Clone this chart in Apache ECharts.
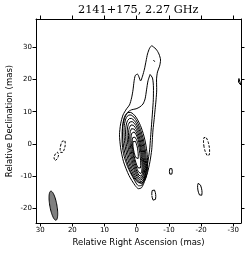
<!DOCTYPE html>
<html>
<head>
<meta charset="utf-8">
<script src="https://cdn.jsdelivr.net/npm/echarts@6/dist/echarts.min.js"></script>
<style>
html,body{margin:0;padding:0;background:#fff;}
#chart{width:250px;height:255px;}
</style>
</head>
<body>
<div id="chart"></div>
<script>
// ---- data (mas) ----
const titleText = '2141+175, 2.27 GHz';
const xTicks = [30, 20, 10, 0, -10, -20, -30];
const yTicks = [-20, -10, 0, 10, 20, 30];
const xRange = [-32.4, 31.3];
const yRange = [-24.7, 38.9];

// lowest positive contour, including jet (RA, Dec)
const jetContourOuter = [
  [-4.65,30.6],[-6.0,29.5],[-6.9,28.0],[-7.4,26.1],[-7.1,24.2],[-6.45,22.4],[-6.15,19.9],
  [-6.2,16.8],[-6.0,13.7],[-5.7,10.6],[-5.4,7.5],[-5.05,4.3],[-4.85,1.25],[-4.65,-1.9],
  [-4.1,-5.6],[-3.35,-9.0],[-2.4,-11.8],[-1.5,-13.7],[-0.55,-14.0],[0.5,-13.0],[2.4,-9.9],
  [4.1,-5.6],[5.0,-1.25],[5.35,2.8],[5.0,6.2],[4.25,9.0],[3.15,10.9],[2.25,12.1],[1.6,14.3],
  [1.15,16.8],[0.85,19.3],[0.45,21.3],[-0.25,21.7],[-0.7,20.8],[-1.2,19.6],[-1.8,21.1],
  [-2.4,23.3],[-2.9,25.8],[-3.35,28.0],[-4.0,29.8],[-4.65,30.6]
];
// second positive contour
const jetContourInner = [
  [-4.15,21.6],[-4.9,20.5],[-5.2,17.4],[-5.15,13.7],[-4.9,9.9],[-4.6,5.9],[-4.3,1.9],
  [-4.0,-1.9],[-3.4,-6.0],[-2.6,-10.0],[-1.6,-12.9],[-0.6,-13.1],[0.9,-11.0],[2.85,-7.1],
  [4.1,-3.1],[4.55,0.9],[4.45,4.7],[3.85,7.8],[2.85,9.8],[1.6,10.6],[0.2,10.9],[-1.0,11.5],
  [-1.95,12.4],[-2.6,14.0],[-3.05,16.8],[-3.5,19.6],[-4.15,21.6]
];
// nested core contours: [centreRA, centreDec, halfWidth, upperLength, lowerLength, tiltDeg]
const coreContours = [
  [0.55,-1.0,3.45,11.0,11.5,10],
  [0.50,-1.1,3.0,10.3,11.3,10],
  [0.43,-1.2,2.63,9.3,10.75,10],
  [0.35,-1.3,2.25,8.4,10.15,10],
  [0.30,-1.4,1.9,7.45,9.55,10],
  [0.25,-1.5,1.57,6.45,8.85,10],
  [0.22,-1.5,1.27,5.4,8.0,10],
  [0.25,-1.6,0.98,3.9,6.5,10],
  [0.40,-1.5,0.65,2.75,3.55,10]
];
// small positive islands: [RA, Dec, semiMajor, semiMinor, tiltDeg]
const positiveIslands = [
  [-10.6,-8.6,1.2,0.45,0],
  [-5.3,-16.0,1.9,0.6,5],
  [-19.6,-14.3,2.1,0.6,10],
  [-5.5,26.1,0.55,0.3,0],
  [-32.5,19.6,1.3,0.9,0]
];
// negative (dashed) contours
const negativeContours = [
  [23.0,-0.85,2.1,0.7,-12],
  [25.0,-3.95,1.4,0.6,-20],
  [-21.7,-0.8,3.1,0.8,10]
];
// restoring beam [RA, Dec, semiMajor, semiMinor, tiltDeg]
const beamEllipse = [25.9,-19.3,4.6,1.1,10];

// ---- geometry helpers ----
function eggPoints(cx, cy, b, aT, aB, tiltDeg) {
  const th = tiltDeg * Math.PI / 180, n = 72, pts = [];
  for (let i = 0; i <= n; i++) {
    const t = 2 * Math.PI * i / n;
    const u = b * Math.cos(t);
    const s = Math.sin(t);
    const v = (s >= 0 ? aT : aB) * s;
    pts.push([cx + u * Math.cos(th) + v * Math.sin(th), cy - u * Math.sin(th) + v * Math.cos(th)]);
  }
  return pts;
}
function ellipsePoints(e) { return eggPoints(e[0], e[1], e[3], e[2], e[2], e[4]); }
// keep only the part of a contour that lies inside the plotted range
function insideRange(pts) {
  return pts.filter(p => p[0] >= xRange[0] && p[0] <= xRange[1] && p[1] >= yRange[0] && p[1] <= yRange[1]);
}

const FONT = 'DejaVu Sans';
function lineSeries(data, dashed, smooth) {
  return {
    type: 'line', data: data, showSymbol: false, symbol: 'none', silent: true,
    smooth: smooth || false, clip: true, animation: false,
    lineStyle: { color: '#000', width: 1, type: dashed ? [2.5, 1.5] : 'solid' }
  };
}

const series = [];
series.push(lineSeries(jetContourOuter, false, 0.25));
series.push(lineSeries(jetContourInner, false, 0.25));
coreContours.forEach(c => series.push(lineSeries(eggPoints(c[0], c[1], c[2], c[3], c[4], c[5]), false)));
positiveIslands.forEach(e => series.push(lineSeries(insideRange(ellipsePoints(e)), false)));
negativeContours.forEach(e => series.push(lineSeries(ellipsePoints(e), true)));
series.push({
  type: 'custom', silent: true, animation: false, clip: true,
  data: [[beamEllipse[0], beamEllipse[1]]],
  renderItem: function (params, api) {
    const pts = ellipsePoints(beamEllipse).map(p => api.coord(p));
    return { type: 'polygon', shape: { points: pts }, style: { fill: '#808080', stroke: '#000', lineWidth: 1 } };
  }
});

const axisLineStyle = { show: true, onZero: false, lineStyle: { color: '#000', width: 1 } };
function xAxisDef(pos, labels) {
  return {
    type: 'value', position: pos, inverse: true, min: xRange[0], max: xRange[1],
    axisLine: axisLineStyle,
    axisTick: { show: true, length: 3.5, customValues: xTicks, lineStyle: { color: '#000', width: 1 } },
    axisLabel: { show: labels, customValues: xTicks, fontSize: 7, fontFamily: FONT, color: '#000', margin: 4 },
    splitLine: { show: false },
    name: labels ? 'Relative Right Ascension (mas)' : '',
    nameLocation: 'middle', nameGap: 15, nameMoveOverlap: false,
    nameTextStyle: { fontSize: 8.5, fontFamily: FONT, color: '#000' }
  };
}
function yAxisDef(pos, labels) {
  return {
    type: 'value', position: pos, min: yRange[0], max: yRange[1],
    axisLine: axisLineStyle,
    axisTick: { show: true, length: 3.5, customValues: yTicks, lineStyle: { color: '#000', width: 1 } },
    axisLabel: { show: labels, customValues: yTicks, fontSize: 7, fontFamily: FONT, color: '#000', margin: 4 },
    splitLine: { show: false },
    name: labels ? 'Relative Declination (mas)' : '',
    nameLocation: 'middle', nameGap: 22, nameMoveOverlap: false,
    nameTextStyle: { fontSize: 8.5, fontFamily: FONT, color: '#000' }
  };
}

const chart = echarts.init(document.getElementById('chart'), null, { renderer: 'canvas' });
chart.setOption({
  animation: false,
  backgroundColor: '#fff',
  title: {
    text: titleText, left: 78, top: 5, padding: 0,
    textStyle: { fontFamily: 'DejaVu Serif', fontSize: 11.3, fontWeight: 'normal', color: '#000' }
  },
  grid: { left: 36, top: 19, width: 205, height: 204, show: false, containLabel: false, outerBoundsMode: 'none' },
  xAxis: [xAxisDef('bottom', true), xAxisDef('top', false)],
  yAxis: [yAxisDef('left', true), yAxisDef('right', false)],
  series: series
});
</script>
</body>
</html>
